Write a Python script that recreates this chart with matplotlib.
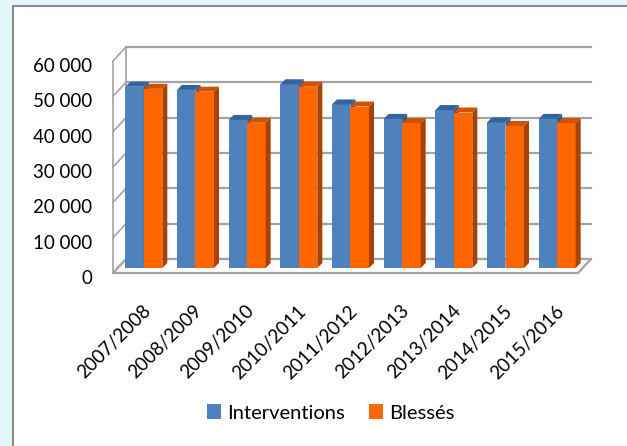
import numpy as np
import matplotlib
matplotlib.use("Agg")
import matplotlib.pyplot as plt
from matplotlib.patches import Rectangle, Polygon, Patch
from matplotlib.transforms import ScaledTranslation

# données (saisons)
saisons = ['2007/2008', '2008/2009', '2009/2010', '2010/2011', '2011/2012',
           '2012/2013', '2013/2014', '2014/2015', '2015/2016']
interventions = [51300, 50400, 41900, 52000, 46300, 42200, 44700, 41200, 42200]
blesses = [50700, 49900, 41100, 51300, 45700, 41000, 44000, 40200, 41000]
yticks = [0, 10000, 20000, 30000, 40000, 50000, 60000]

plt.rcParams['font.family'] = ['Lato', 'DejaVu Sans']

W, H = 627, 446
fig = plt.figure(figsize=(W / 100, H / 100), dpi=100)
fig.patch.set_facecolor('#e4f5fa')
fig.patches.append(Rectangle((12.5 / W, -0.01), 1.0, 1 - 6.5 / H + 0.01,
                             transform=fig.transFigure, facecolor='white',
                             edgecolor='#8c8c8c', linewidth=1.5, zorder=-5))

# plan avant de l'axe
x0, x1, y0, y1 = 113, 578, 273, 61
ax = fig.add_axes([x0 / W, (H - y0) / H, (x1 - x0) / W, (y0 - y1) / H])
ax.set_xlim(0, len(saisons))
ax.set_ylim(0, 60000)
ax.patch.set_visible(False)
for s in ax.spines.values():
    s.set_visible(False)

pxx = (x1 - x0) / len(saisons)
pxy = (y0 - y1) / 60000
dx, dy = 13 / pxx, 14 / pxy          # profondeur du mur
ox, oy = 5 / pxx, 5 / pxy            # decalage des barres
sx, sy = 5 / pxx, 5 / pxy            # epaisseur des barres
w = 18.5 / pxx

grid = '#a3a3a3'
n = len(saisons)
# mur du fond + mur gauche
for v in yticks:
    ax.plot([dx, n + dx], [v + dy, v + dy], color=grid, lw=1.6, clip_on=False, zorder=1)
    ax.plot([0, dx], [v, v + dy], color=grid, lw=1.2, clip_on=False, zorder=1)
ax.plot([0, 0], [0, 60000], color=grid, lw=1.2, clip_on=False, zorder=1)
ax.plot([dx, dx], [dy, 60000 + dy], color=grid, lw=1.2, clip_on=False, zorder=1)
# sol
ax.add_patch(Polygon([(0, 0), (n, 0), (n + dx, dy), (dx, dy)], closed=True,
                     facecolor='white', edgecolor=grid, lw=1.6, clip_on=False, zorder=1))

x = np.arange(n) + 0.5 + ox


def bars3d(xl, vals, front, top, side):
    ax.bar(xl, vals, width=w, bottom=oy, align='edge', color=front,
           linewidth=0, clip_on=False, zorder=3)
    for a, v in zip(xl, vals):
        t = v + oy
        ax.add_patch(Polygon([(a, t), (a + w, t), (a + w + sx, t + sy), (a + sx, t + sy)],
                             facecolor=top, edgecolor='none', clip_on=False, zorder=3))
        ax.add_patch(Polygon([(a + w, oy), (a + w + sx, oy + sy), (a + w + sx, t + sy), (a + w, t)],
                             facecolor=side, edgecolor='none', clip_on=False, zorder=3))


bars3d(x - w, interventions, '#4f81bd', '#36649a', '#2f5a8c')
bars3d(x, blesses, '#ff6600', '#cf5200', '#a84200')

ax.set_yticks(yticks)
ax.set_yticklabels([f"{v:,}".replace(',', ' ') for v in yticks], fontsize=13.5)
ax.tick_params(axis='y', length=0, pad=15)
off = ScaledTranslation(0, -4 / 100, fig.dpi_scale_trans)
for lab in ax.get_yticklabels():
    lab.set_transform(lab.get_transform() + off)

ax.set_xticks(np.arange(n) + 0.5)
ax.set_xticklabels(saisons, fontsize=13.5, rotation=45, ha='right', va='top',
                   rotation_mode='anchor')
ax.tick_params(axis='x', length=0, pad=21)
offx = ScaledTranslation(3 / 100, 0, fig.dpi_scale_trans)
for lab in ax.get_xticklabels():
    lab.set_transform(lab.get_transform() + offx)

handles = [Patch(facecolor='#4f81bd', label='Interventions'),
           Patch(facecolor='#ff6600', label='Blessés')]
fig.legend(handles=handles, loc='center', bbox_to_anchor=(331 / W, (H - 413) / H),
           ncol=2, frameon=False, fontsize=14.5, handlelength=0.7, handleheight=0.7,
           handletextpad=0.3, columnspacing=1.2)

fig.savefig('out.png', dpi=100, facecolor=fig.get_facecolor())
